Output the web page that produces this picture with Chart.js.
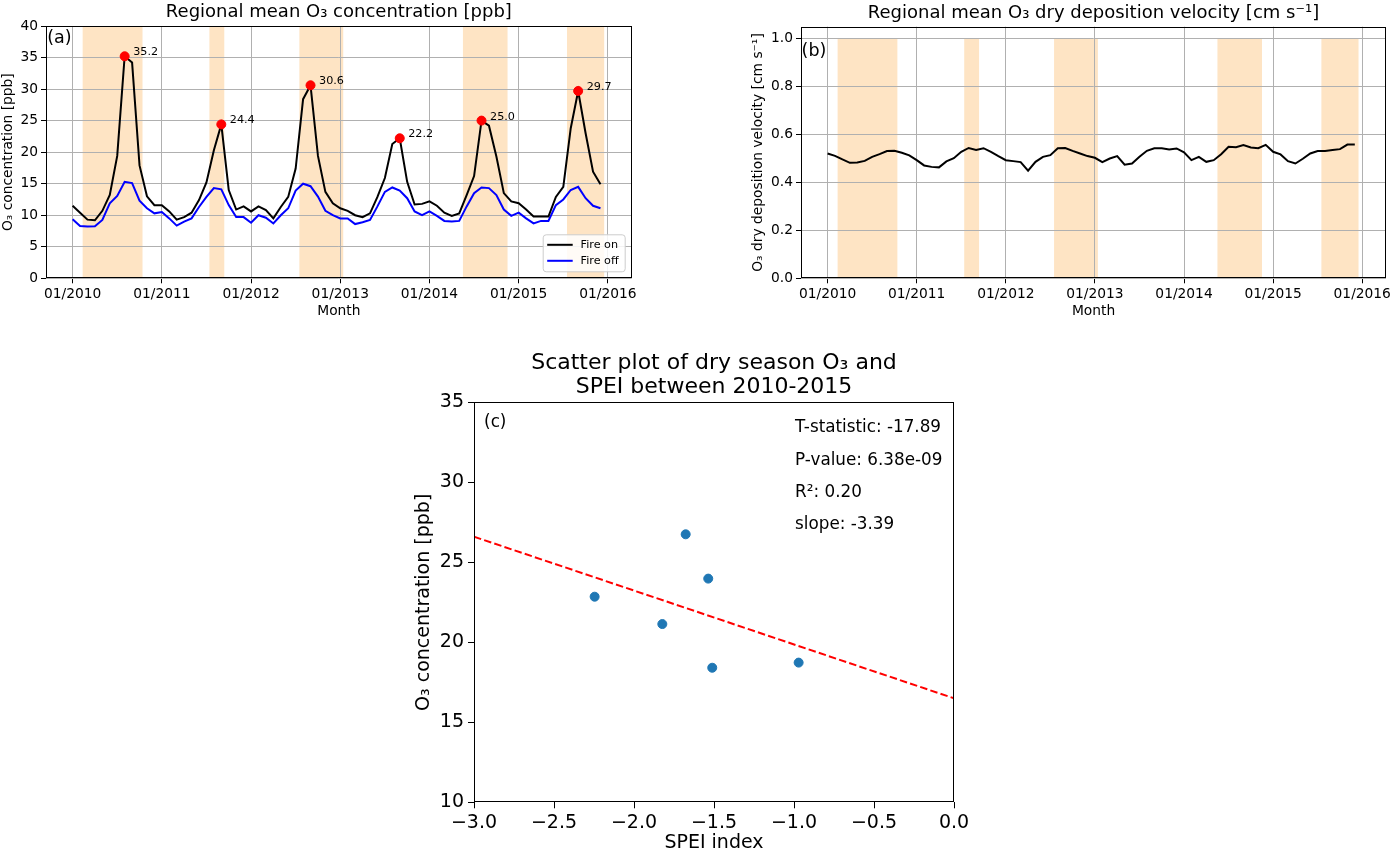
<!DOCTYPE html>
<html>
<head>
<meta charset="utf-8">
<title>Regional mean O3</title>
<script src="https://cdn.jsdelivr.net/npm/chart.js@4.4.1/dist/chart.umd.min.js"></script>
<style>
  html, body { margin: 0; padding: 0; background: #fff; }
  body { width: 1394px; height: 853px; position: relative; overflow: hidden; }
  canvas { position: absolute; }
  #chartA { left: 0; top: 0; }
  #chartB { left: 750px; top: 0; }
  #chartC { left: 400px; top: 330px; }
</style>
</head>
<body>
<canvas id="chartA" width="650" height="320"></canvas>
<canvas id="chartB" width="644" height="320"></canvas>
<canvas id="chartC" width="580" height="524"></canvas>
<script>
// monthly regional means, 01/2010 .. 12/2015 (index = months since 01/2010)
const fireOn = [
  11.5, 10.4, 9.3, 9.2, 10.7, 13.2, 19.4, 35.2, 34.2, 17.9, 13.0, 11.6,
  11.6, 10.6, 9.3, 9.7, 10.4, 12.4, 15.2, 20.3, 24.4, 14.0, 10.9, 11.4,
  10.6, 11.4, 10.8, 9.5, 11.3, 12.9, 17.4, 28.4, 30.6, 19.4, 13.7, 11.9,
  11.1, 10.7, 10.0, 9.7, 10.3, 12.9, 15.9, 21.3, 22.2, 15.3, 11.7, 11.8,
  12.2, 11.5, 10.4, 9.9, 10.3, 13.2, 16.2, 25.0, 24.2, 19.3, 13.5, 12.2,
  11.9, 10.9, 9.8, 9.8, 9.8, 12.9, 14.5, 23.8, 29.7, 23.0, 16.9, 14.9
];
const fireOff = [
  9.35, 8.3, 8.2, 8.25, 9.25, 11.9, 13.05, 15.3, 15.1, 12.3, 11.1, 10.3,
  10.5, 9.5, 8.35, 9.0, 9.5, 11.3, 12.9, 14.3, 14.1, 11.6, 9.7, 9.7,
  8.8, 10.0, 9.6, 8.7, 10.0, 11.1, 13.9, 15.0, 14.6, 12.95, 10.7, 10.0,
  9.5, 9.5, 8.6, 8.9, 9.25, 11.4, 13.7, 14.4, 13.9, 12.7, 10.6, 10.0,
  10.6, 9.9, 9.1, 9.0, 9.1, 11.4, 13.5, 14.4, 14.3, 13.2, 10.9, 9.9,
  10.4, 9.5, 8.7, 9.1, 9.1, 11.6, 12.5, 14.0, 14.5, 12.7, 11.5, 11.1
];
const depVelocity = [
  0.521, 0.511, 0.496, 0.482, 0.483, 0.490, 0.507, 0.518, 0.531, 0.532, 0.524, 0.513,
  0.493, 0.471, 0.465, 0.463, 0.488, 0.501, 0.528, 0.544, 0.536, 0.543, 0.528, 0.510,
  0.493, 0.489, 0.485, 0.449, 0.486, 0.507, 0.514, 0.543, 0.544, 0.532, 0.521, 0.510,
  0.503, 0.485, 0.500, 0.510, 0.474, 0.479, 0.507, 0.532, 0.543, 0.543, 0.538, 0.542,
  0.526, 0.493, 0.507, 0.486, 0.493, 0.518, 0.549, 0.547, 0.556, 0.546, 0.543, 0.557,
  0.528, 0.517, 0.489, 0.479, 0.499, 0.521, 0.531, 0.531, 0.535, 0.539, 0.558, 0.558
];

const peakMonths = [7, 20, 32, 44, 55, 68];
const peakValues = [35.2, 24.4, 30.6, 22.2, 25.0, 29.7];

// dry season shading, months since 01/2010
const dryStart = [1.35, 18.4, 30.5, 52.5, 66.5];
const dryEnd = [9.4, 20.4, 36.4, 58.5, 71.5];

const yearTicks = [0, 12, 24, 36, 48, 60, 72];
const yearLabels = ['01/2010', '01/2011', '01/2012', '01/2013', '01/2014', '01/2015', '01/2016'];
const o3Ticks = [0, 5, 10, 15, 20, 25, 30, 35, 40];
const vdTicks = [0, 0.2, 0.4, 0.6, 0.8, 1.0];
const vdLabels = ['0.0', '0.2', '0.4', '0.6', '0.8', '1.0'];

// panel (c): dry season O3 vs SPEI
const speiX = [-2.246, -1.823, -1.677, -1.536, -1.511, -0.971];
const o3Dry = [22.85, 21.14, 26.75, 23.98, 18.41, 18.73];
const fitX = [-3, 0];
const fitY = [26.6, 16.5];
const speiTicks = [-3, -2.5, -2, -1.5, -1, -0.5, 0];
const speiLabels = ['\u22123.0', '\u22122.5', '\u22122.0', '\u22121.5', '\u22121.0', '\u22120.5', '0.0'];
const concTicks = [10, 15, 20, 25, 30, 35];
const statLines = ['T-statistic: -17.89', 'P-value: 6.38e-09', 'R\u00b2: 0.20', 'slope: -3.39'];

const FONT = "'DejaVu Sans', sans-serif";
Chart.defaults.font.family = FONT;
Chart.defaults.color = '#000';

function fixTicks(values) {
  return (scale) => { scale.ticks = values.map((v) => ({ value: v })); };
}

// shaded dry seasons, under the grid
const drySpans = {
  id: 'drySpans',
  beforeDraw(chart, args, opts) {
    const { ctx, chartArea: a, scales: { x, y } } = chart;
    const top = opts.top === undefined ? a.top : y.getPixelForValue(opts.top);
    ctx.save();
    ctx.beginPath();
    ctx.rect(a.left, a.top, a.width, a.height);
    ctx.clip();
    ctx.fillStyle = 'rgb(254, 228, 196)';
    dryStart.forEach((s, i) => {
      const x0 = x.getPixelForValue(s);
      const x1 = x.getPixelForValue(dryEnd[i]);
      ctx.fillRect(x0, top, x1 - x0, a.bottom - top);
    });
    ctx.restore();
  }
};

// axes box + text placed in axes fractions
const frame = {
  id: 'frame',
  afterDraw(chart, args, opts) {
    const { ctx, chartArea: a } = chart;
    ctx.save();
    ctx.strokeStyle = '#000';
    ctx.lineWidth = 1;
    const l = Math.round(a.left) + 0.5, t = Math.round(a.top) + 0.5;
    const r = Math.round(a.right) - 0.5, b = Math.round(a.bottom) - 0.5;
    ctx.strokeRect(l, t, r - l, b - t);
    ctx.fillStyle = '#000';
    ctx.textBaseline = 'middle';
    ctx.textAlign = 'left';
    (opts.notes || []).forEach((n) => {
      ctx.font = n.size + 'px ' + FONT;
      ctx.fillText(n.text, a.left + n.fx * a.width, a.top + n.fy * a.height);
    });
    ctx.restore();
  }
};

const peakLabels = {
  id: 'peakLabels',
  afterDatasetsDraw(chart) {
    const { ctx } = chart;
    const meta = chart.getDatasetMeta(2);
    ctx.save();
    ctx.fillStyle = '#000';
    ctx.font = '11.2px ' + FONT;
    ctx.textBaseline = 'middle';
    meta.data.forEach((pt, i) => {
      ctx.fillText(peakValues[i].toFixed(1), pt.x + 8.5, pt.y - 4);
    });
    ctx.restore();
  }
};

const boxLegend = {
  id: 'boxLegend',
  afterDraw(chart) {
    const { ctx, chartArea: a } = chart;
    const items = chart.data.datasets.slice(0, 2);
    const w = 82, h = 37;
    const x0 = a.right - 6.5 - w, y0 = a.bottom - 6.5 - h;
    ctx.save();
    ctx.fillStyle = 'rgba(255,255,255,0.85)';
    ctx.strokeStyle = '#cccccc';
    ctx.lineWidth = 1;
    ctx.beginPath();
    if (ctx.roundRect) ctx.roundRect(x0, y0, w, h, 3); else ctx.rect(x0, y0, w, h);
    ctx.fill();
    ctx.stroke();
    ctx.font = '11.2px ' + FONT;
    ctx.textBaseline = 'middle';
    items.forEach((d, i) => {
      const yy = y0 + 10 + i * 16;
      ctx.strokeStyle = d.borderColor;
      ctx.lineWidth = 2;
      ctx.beginPath();
      ctx.moveTo(x0 + 4, yy);
      ctx.lineTo(x0 + 29.5, yy);
      ctx.stroke();
      ctx.fillStyle = '#000';
      ctx.fillText(d.label, x0 + 37.4, yy);
    });
    ctx.restore();
  }
};

function monthAxis() {
  return {
    type: 'linear',
    min: -3.58,
    max: 75.2,
    afterBuildTicks: fixTicks(yearTicks),
    afterFit: (s) => { s.height = 41.7; s.paddingLeft = 0; s.paddingRight = 0; },
    ticks: { callback: (v, i) => yearLabels[i], font: { size: 13.8 }, padding: 3, maxRotation: 0, autoSkip: false },
    grid: { color: '#b0b0b0', tickColor: '#000', tickLength: 5, lineWidth: 1 },
    border: { display: false },
    title: { display: true, text: 'Month', font: { size: 13.8 }, padding: 0 }
  };
}

const lineStyle = { borderWidth: 2, pointRadius: 0, tension: 0, fill: false };

new Chart(document.getElementById('chartA'), {
  type: 'line',
  data: {
    datasets: [
      { label: 'Fire on', data: fireOn.map((v, i) => ({ x: i, y: v })), borderColor: '#000000', order: 1, ...lineStyle },
      { label: 'Fire off', data: fireOff.map((v, i) => ({ x: i, y: v })), borderColor: '#0000ff', order: 2, ...lineStyle },
      {
        label: 'peaks',
        type: 'scatter',
        data: peakMonths.map((m, i) => ({ x: m, y: peakValues[i] })),
        backgroundColor: '#ff0000',
        borderColor: '#ff0000',
        pointRadius: 4.5,
        order: 0
      }
    ]
  },
  options: {
    responsive: false,
    animation: false,
    layout: { padding: { left: 0, right: 18.3, top: 0, bottom: 0 } },
    plugins: {
      legend: { display: false },
      tooltip: { enabled: false },
      title: {
        display: true,
        text: 'Regional mean O\u2083 concentration [ppb]',
        fullSize: false,
        font: { size: 18, weight: 'normal' },
        padding: { top: 2, bottom: 2.4 }
      },
      drySpans: {},
      frame: { notes: [{ text: '(a)', fx: 0.002, fy: 0.049, size: 17.5 }] }
    },
    scales: {
      x: monthAxis(),
      y: {
        min: 0,
        max: 40,
        afterBuildTicks: fixTicks(o3Ticks),
        afterFit: (s) => { s.width = 46; s.paddingTop = 0; s.paddingBottom = 0; },
        ticks: { font: { size: 13.8 }, padding: 3, callback: (v) => String(v) },
        grid: { color: '#b0b0b0', tickColor: '#000', tickLength: 5, lineWidth: 1 },
        border: { display: false },
        title: { display: true, text: 'O\u2083 concentration [ppb]', font: { size: 13.8 }, padding: 0 }
      }
    }
  },
  plugins: [drySpans, frame, peakLabels, boxLegend]
});

new Chart(document.getElementById('chartB'), {
  type: 'line',
  data: {
    datasets: [
      { label: 'Dry deposition velocity', data: depVelocity.map((v, i) => ({ x: i, y: v })), borderColor: '#000000', ...lineStyle }
    ]
  },
  options: {
    responsive: false,
    animation: false,
    layout: { padding: { left: 0, right: 8, top: 0, bottom: 0 } },
    plugins: {
      legend: { display: false },
      tooltip: { enabled: false },
      title: {
        display: true,
        text: 'Regional mean O\u2083 dry deposition velocity [cm s\u207b\u00b9]',
        fullSize: false,
        font: { size: 18, weight: 'normal' },
        padding: { top: 2.5, bottom: 2.6 }
      },
      drySpans: { top: 1.0 },
      frame: { notes: [{ text: '(b)', fx: 0.001, fy: 0.099, size: 17.5 }] }
    },
    scales: {
      x: monthAxis(),
      y: {
        min: 0,
        max: 1.05,
        afterBuildTicks: fixTicks(vdTicks),
        afterFit: (s) => { s.width = 51; s.paddingTop = 0; s.paddingBottom = 0; },
        ticks: { font: { size: 13.8 }, padding: 3, callback: (v, i) => vdLabels[i] },
        grid: { color: '#b0b0b0', tickColor: '#000', tickLength: 5, lineWidth: 1 },
        border: { display: false },
        title: { display: true, text: 'O\u2083 dry deposition velocity [cm s\u207b\u00b9]', font: { size: 13.8 }, padding: 0 }
      }
    }
  },
  plugins: [drySpans, frame]
});

new Chart(document.getElementById('chartC'), {
  type: 'scatter',
  data: {
    datasets: [
      {
        label: 'dry season',
        data: speiX.map((x, i) => ({ x: x, y: o3Dry[i] })),
        backgroundColor: '#1f77b4',
        borderColor: '#1f77b4',
        pointRadius: 4.5
      },
      {
        label: 'fit',
        data: fitX.map((x, i) => ({ x: x, y: fitY[i] })),
        showLine: true,
        borderColor: '#ff0000',
        borderWidth: 2,
        borderDash: [7.5, 3.2],
        pointRadius: 0
      }
    ]
  },
  options: {
    responsive: false,
    animation: false,
    layout: { padding: { left: 0, right: 26, top: 0, bottom: 0 } },
    plugins: {
      legend: { display: false },
      tooltip: { enabled: false },
      title: {
        display: true,
        text: ['Scatter plot of dry season O\u2083 and', 'SPEI between 2010-2015'],
        fullSize: false,
        font: { size: 22, weight: 'normal', lineHeight: 1.1 },
        padding: { top: 20.9, bottom: 3 }
      },
      frame: {
        notes: [{ text: '(c)', fx: 0.021, fy: 0.052, size: 16.8 }].concat(
          statLines.map((t, i) => ({ text: t, fx: 0.669, fy: [0.064, 0.146, 0.227, 0.307][i], size: 16.8 }))
        )
      }
    },
    scales: {
      x: {
        type: 'linear',
        min: -3,
        max: 0,
        afterBuildTicks: fixTicks(speiTicks),
        afterFit: (s) => { s.height = 51.7; s.paddingLeft = 0; s.paddingRight = 0; },
        ticks: { callback: (v, i) => speiLabels[i], font: { size: 19 }, padding: 3, maxRotation: 0, autoSkip: false },
        grid: { drawOnChartArea: false, color: '#000', tickColor: '#000', tickLength: 6 },
        border: { display: false },
        title: { display: true, text: 'SPEI index', font: { size: 19 }, padding: 0 }
      },
      y: {
        min: 10,
        max: 35,
        afterBuildTicks: fixTicks(concTicks),
        afterFit: (s) => { s.width = 74; s.paddingTop = 0; s.paddingBottom = 0; },
        ticks: { font: { size: 19 }, padding: 4, callback: (v) => String(v) },
        grid: { drawOnChartArea: false, color: '#000', tickColor: '#000', tickLength: 6 },
        border: { display: false },
        title: { display: true, text: 'O\u2083 concentration [ppb]', font: { size: 19 }, padding: { top: 12.6, bottom: 0 } }
      }
    }
  },
  plugins: [frame]
});
</script>
</body>
</html>
